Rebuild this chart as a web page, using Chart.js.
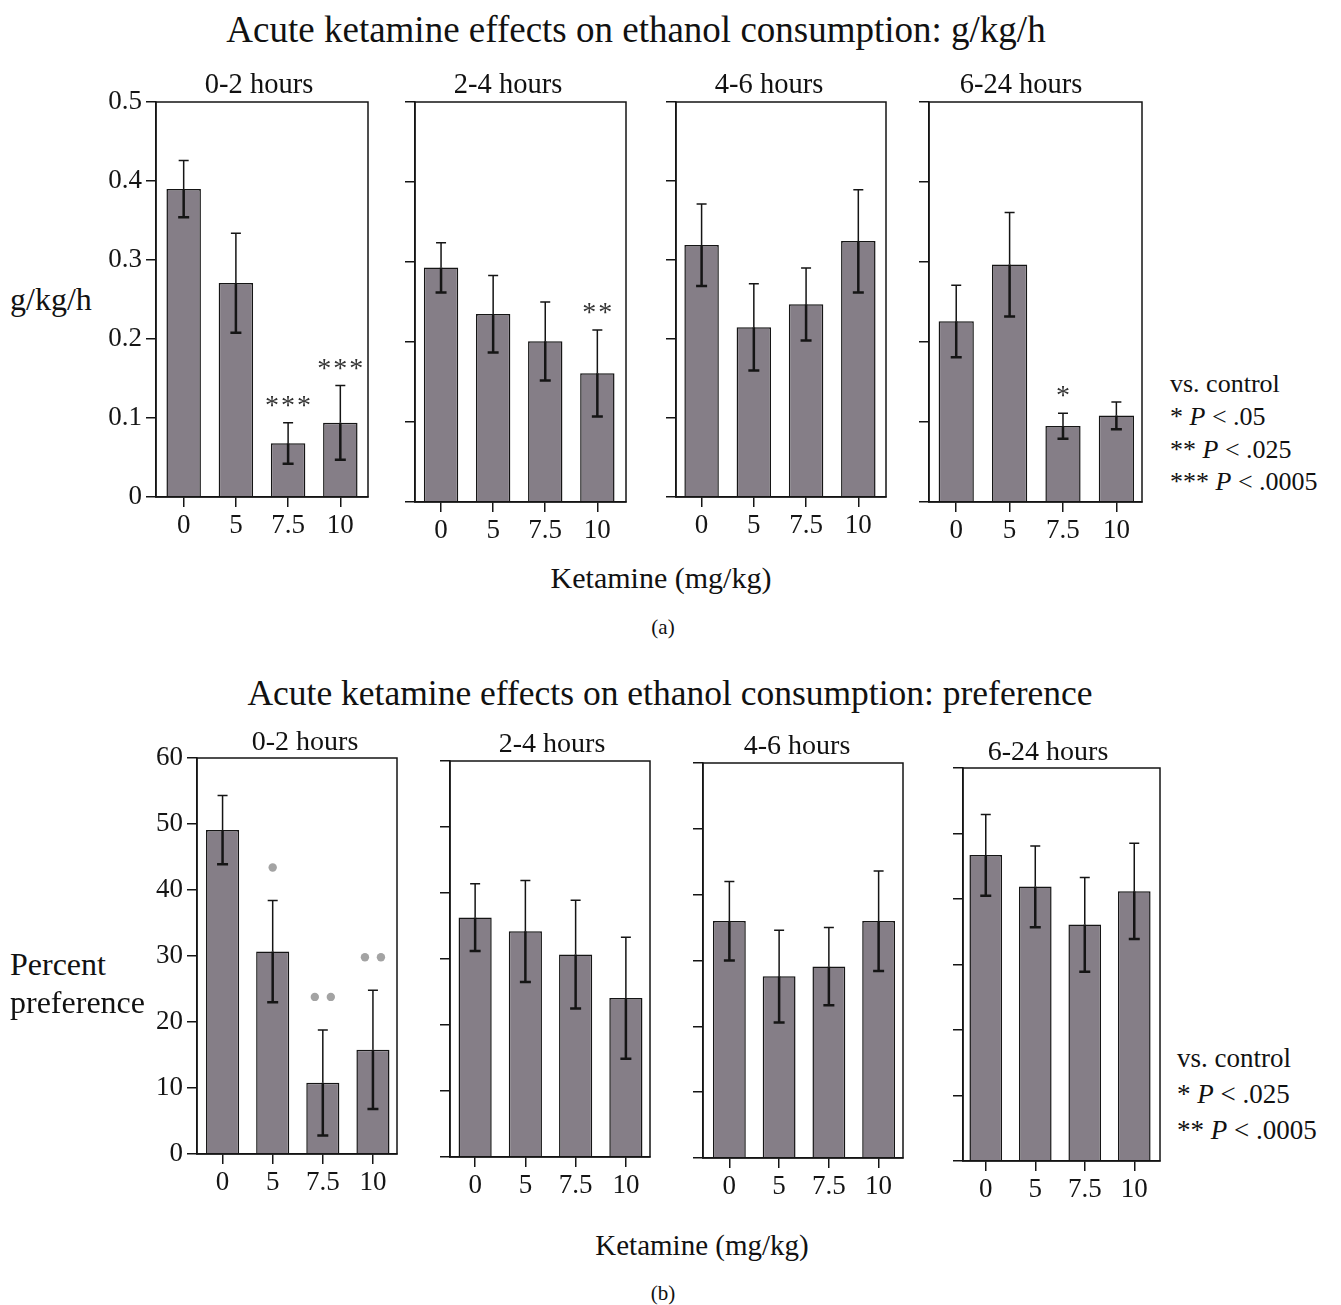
<!DOCTYPE html>
<html>
<head>
<meta charset="utf-8">
<script src="https://cdn.jsdelivr.net/npm/chart.js@4.4.1/dist/chart.umd.min.js"></script>
<style>
  html, body { margin: 0; padding: 0; background: #fff; }
  #fig { position: relative; width: 1341px; height: 1305px; font-family: 'Liberation Serif', 'Times New Roman', serif; color: #111; }
  #fig canvas { position: absolute; }
  .t { position: absolute; line-height: 1; white-space: nowrap; }
  .c { transform: translate(-50%, -50%); }
  .l { transform: translate(0, -50%); }
</style>
</head>
<body>
<div id="fig"></div>
<script>
// ---- data ----
const doses = ["0", "5", "7.5", "10"];
const windows = ["0-2 hours", "2-4 hours", "4-6 hours", "6-24 hours"];
const gkgTicks = [0, 0.1, 0.2, 0.3, 0.4, 0.5];
const prefTicks = [0, 10, 20, 30, 40, 50, 60];

// (a) ethanol g/kg/h, mean and SEM
const gkg02 = [0.390, 0.271, 0.068, 0.094];
const gkg24 = [0.293, 0.235, 0.201, 0.161];
const gkg46 = [0.319, 0.215, 0.244, 0.324];
const gkg624 = [0.226, 0.297, 0.095, 0.108];
const gkgSem02 = [0.036, 0.063, 0.026, 0.047];
const gkgSem24 = [0.031, 0.048, 0.049, 0.054];
const gkgSem46 = [0.052, 0.055, 0.046, 0.065];
const gkgSem624 = [0.045, 0.065, 0.016, 0.017];
const gkgSig = [["", "", "***", "***"], ["", "", "", "**"], ["", "", "", ""], ["", "", "*", ""]];

// (b) percent preference, mean and SEM
const pref02 = [49.1, 30.7, 10.8, 15.8];
const pref24 = [36.3, 34.2, 30.7, 24.1];
const pref46 = [36.0, 27.6, 29.1, 36.0];
const pref624 = [46.7, 41.9, 36.1, 41.2];
const prefSem02 = [5.2, 7.7, 8.0, 9.0];
const prefSem24 = [5.1, 7.7, 8.2, 9.2];
const prefSem46 = [6.0, 7.0, 5.9, 7.6];
const prefSem624 = [6.2, 6.2, 7.2, 7.3];
const prefSig = [["", "*", "**", "**"], ["", "", "", ""], ["", "", "", ""], ["", "", "", ""]];

// ---- layout ----
const fig = document.getElementById('fig');
const INK = '#151515';
const BAR = '#857e87';
const YW = 64, PT = 24, PR = 16, XH = 56;
Chart.defaults.font.family = "'Liberation Serif', 'Times New Roman', serif";

const boxesA = [
  { l: 156, t: 102, r: 368, b: 497, xmin: -0.53, xmax: 3.53 },
  { l: 415, t: 102, r: 626, b: 502, xmin: -0.50, xmax: 3.55 },
  { l: 676, t: 102, r: 886, b: 497, xmin: -0.49, xmax: 3.53 },
  { l: 929, t: 102, r: 1142, b: 502, xmin: -0.51, xmax: 3.48 }
];
const boxesB = [
  { l: 197, t: 758, r: 397, b: 1154, xmin: -0.51, xmax: 3.48 },
  { l: 450, t: 761, r: 650, b: 1157, xmin: -0.50, xmax: 3.48 },
  { l: 703, t: 763, r: 903, b: 1158, xmin: -0.53, xmax: 3.49 },
  { l: 963, t: 768, r: 1160, b: 1161, xmin: -0.46, xmax: 3.52 }
];

// error bars, significance marks and the frame round the plot
const errorBars = {
  id: 'errorBars',
  afterDatasetsDraw(chart) {
    const ctx = chart.ctx, y = chart.scales.y;
    const ds = chart.data.datasets[0];
    chart.getDatasetMeta(0).data.forEach((bar, i) => {
      const v = ds.data[i].y, s = ds.sem[i];
      const x = bar.x, y0 = bar.y;
      const yTop = y.getPixelForValue(v + s), yBot = y.getPixelForValue(v - s);
      ctx.save();
      ctx.strokeStyle = INK;
      ctx.lineWidth = 1.5;
      ctx.beginPath();
      ctx.moveTo(x, y0); ctx.lineTo(x, yTop);
      ctx.moveTo(x - 5, yTop); ctx.lineTo(x + 5, yTop);
      ctx.stroke();
      ctx.lineWidth = 2.5;
      ctx.beginPath();
      ctx.moveTo(x, y0); ctx.lineTo(x, yBot);
      ctx.moveTo(x - 5.5, yBot); ctx.lineTo(x + 5.5, yBot);
      ctx.stroke();

      const n = ds.sig[i].length;
      for (let k = 0; k < n; k++) {
        const xk = x + (k - (n - 1) / 2) * 16;
        if (ds.sigStyle === 'dot') {
          ctx.fillStyle = '#a3a3a3';
          ctx.beginPath();
          ctx.arc(xk, yTop - 33, 4.2, 0, Math.PI * 2);
          ctx.fill();
        } else {
          ctx.fillStyle = '#333';
          ctx.font = "28px 'Liberation Serif'";
          ctx.textAlign = 'center';
          ctx.textBaseline = 'alphabetic';
          ctx.fillText('*', xk, yTop - 22 + 13);
        }
      }
      ctx.restore();
    });
  },
  afterDraw(chart) {
    const { ctx, chartArea: a } = chart;
    ctx.save();
    ctx.strokeStyle = INK;
    ctx.lineWidth = 1.5;
    ctx.strokeRect(a.left, a.top, a.right - a.left, a.bottom - a.top);
    ctx.restore();
  }
};

function makePanel(box, means, sems, sig, yTicks, showY, sigStyle) {
  const cv = document.createElement('canvas');
  const w = box.r - box.l + YW + PR, h = box.b - box.t + PT + XH;
  cv.width = w; cv.height = h;
  cv.style.left = (box.l - YW) + 'px';
  cv.style.top = (box.t - PT) + 'px';
  cv.style.width = w + 'px';
  cv.style.height = h + 'px';
  fig.appendChild(cv);

  const axisGrid = { drawOnChartArea: false, drawTicks: true, tickLength: 10, color: INK, lineWidth: 1.5, offset: false };
  const axisBorder = { display: true, color: INK, width: 1.5 };

  new Chart(cv, {
    type: 'bar',
    data: {
      datasets: [{
        data: means.map((v, i) => ({ x: i, y: v })),
        sem: sems,
        sig: sig,
        sigStyle: sigStyle,
        backgroundColor: BAR,
        borderColor: INK,
        borderWidth: 1.5,
        barPercentage: 0.66,
        categoryPercentage: 1
      }]
    },
    options: {
      responsive: false,
      animation: false,
      events: [],
      layout: { padding: { top: PT, right: PR, left: 0, bottom: 0 } },
      plugins: { legend: { display: false }, tooltip: { enabled: false } },
      scales: {
        x: {
          type: 'linear', min: box.xmin, max: box.xmax, offset: false,
          afterBuildTicks: s => { s.ticks = doses.map((d, i) => ({ value: i })); },
          ticks: { callback: v => doses[v], font: { size: 27 }, color: INK, padding: 3, maxRotation: 0, autoSkip: false },
          grid: axisGrid,
          border: axisBorder,
          afterFit: s => { s.height = XH; }
        },
        y: {
          type: 'linear', min: yTicks[0], max: yTicks[yTicks.length - 1],
          afterBuildTicks: s => { s.ticks = yTicks.map(v => ({ value: v })); },
          ticks: { display: showY, callback: v => String(v), font: { size: 27 }, color: INK, padding: 4 },
          grid: axisGrid,
          border: axisBorder,
          afterFit: s => { s.width = YW; }
        }
      }
    },
    plugins: [errorBars]
  });
}

const gkgMeans = [gkg02, gkg24, gkg46, gkg624];
const gkgSems = [gkgSem02, gkgSem24, gkgSem46, gkgSem624];
const prefMeans = [pref02, pref24, pref46, pref624];
const prefSems = [prefSem02, prefSem24, prefSem46, prefSem624];

boxesA.forEach((b, i) => makePanel(b, gkgMeans[i], gkgSems[i], gkgSig[i], gkgTicks, i === 0, 'star'));
boxesB.forEach((b, i) => makePanel(b, prefMeans[i], prefSems[i], prefSig[i], prefTicks, i === 0, 'dot'));

// ---- text ----
function text(html, x, y, size, mode) {
  const d = document.createElement('div');
  d.className = 't ' + mode;
  d.style.left = x + 'px';
  d.style.top = y + 'px';
  d.style.fontSize = size + 'px';
  d.innerHTML = html;
  fig.appendChild(d);
}

text('Acute ketamine effects on ethanol consumption: g/kg/h', 636, 29, 37, 'c');
[[259, 84], [508, 84], [769, 84], [1021, 84]].forEach((p, i) => text(windows[i], p[0], p[1], 28.5, 'c'));
text('g/kg/h', 10, 299, 32, 'l');
text('Ketamine (mg/kg)', 661, 578, 30, 'c');
text('(a)', 663, 627, 21, 'c');
text('vs. control', 1170, 384, 26, 'l');
text('* <i>P</i> &lt; .05', 1170, 417, 26, 'l');
text('** <i>P</i> &lt; .025', 1170, 450, 26, 'l');
text('*** <i>P</i> &lt; .0005', 1170, 482, 26, 'l');

text('Acute ketamine effects on ethanol consumption: preference', 670, 694, 35.5, 'c');
[[305, 741], [552, 743], [797, 745], [1048, 751]].forEach((p, i) => text(windows[i], p[0], p[1], 28, 'c'));
text('Percent', 10, 964, 32, 'l');
text('preference', 10, 1002, 32, 'l');
text('Ketamine (mg/kg)', 702, 1245, 29, 'c');
text('(b)', 663, 1293, 21, 'c');
text('vs. control', 1177, 1058, 27, 'l');
text('* <i>P</i> &lt; .025', 1177, 1094, 27, 'l');
text('** <i>P</i> &lt; .0005', 1177, 1130, 27, 'l');
</script>
</body>
</html>
